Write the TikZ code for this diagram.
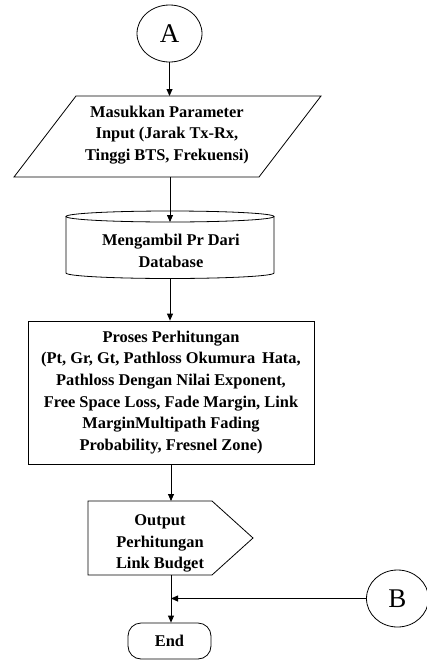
\documentclass[tikz,border=0pt]{standalone}
\usepackage{fontspec}
\setmainfont{Liberation Serif}
\usetikzlibrary{arrows.meta,shapes.geometric}
\begin{document}
\begin{tikzpicture}[x=1pt,y=-1pt,
  line width=0.8pt,
  lbl/.style={font=\fontsize{16.4}{21.7}\selectfont\bfseries, align=center, inner sep=0pt},
  conn/.style={draw, ellipse, inner sep=0pt, font=\fontsize{27}{27}\selectfont},
  arr/.style={-{Triangle[length=7pt,width=6pt]}},
  shp/.style={draw, fill=white}]
\useasboundingbox (0,0) rectangle (427,662);
% connector A
\node[conn, minimum width=65, minimum height=57] (A) at (169.5,33.5) {A};
% parallelogram
\draw[shp] (76,96) -- (321,96) -- (259,177) -- (14,177) -- cycle;
\coordinate (pt) at (170,96);
\coordinate (pb) at (170,177);
\node[lbl] (para) at (167,135) {Masukkan Parameter\\Input (Jarak Tx-Rx,\\Tinggi BTS, Frekuensi)};
% cylinder
\draw[shp] (66,216.5) -- (66,273) arc[start angle=180, end angle=0, x radius=104, y radius=5.5] -- (274,216.5);
\draw[shp] (170,216.5) ellipse [x radius=104, y radius=5.5];
\coordinate (ct) at (170,222);
\coordinate (cb) at (170,278.5);
\node[lbl] (db) at (171,251) {Mengambil Pr Dari\\Database};
% process
\node[lbl, draw, minimum width=286, minimum height=143] (proc) at (171,392.5)
  {Proses Perhitungan\\(Pt, Gr, Gt, Pathloss Okumura\ \,Hata,\\Pathloss Dengan Nilai Exponent,\\Free Space Loss, Fade Margin, Link\\MarginMultipath Fading\\Probability, Fresnel Zone)};
% output
\draw[shp] (88,501) -- (212,501) -- (253,538) -- (212,575) -- (88,575) -- cycle;
\coordinate (ot) at (171,501);
\coordinate (ob) at (171,575);
\node[lbl] (out) at (160,543.5) {Output\\Perhitungan\\Link Budget};
% end
\node[lbl, draw, rounded corners=13, minimum width=83, minimum height=36] (end) at (169.5,641) {End};
% connector B
\node[conn, minimum width=62, minimum height=57] (B) at (397.5,598.5) {B};
% connectors
\draw[arr] (A.south) -- (A.south |- pt);
\draw[arr] (pb) -- (ct);
\draw[arr] (cb) -- (cb |- proc.north);
\draw[arr] (ot |- proc.south) -- (ot);
\draw[arr] (ob) -- (ob |- end.north);
\draw[arr] (B.west) -- (B.west -| ob);
\end{tikzpicture}
\end{document}
